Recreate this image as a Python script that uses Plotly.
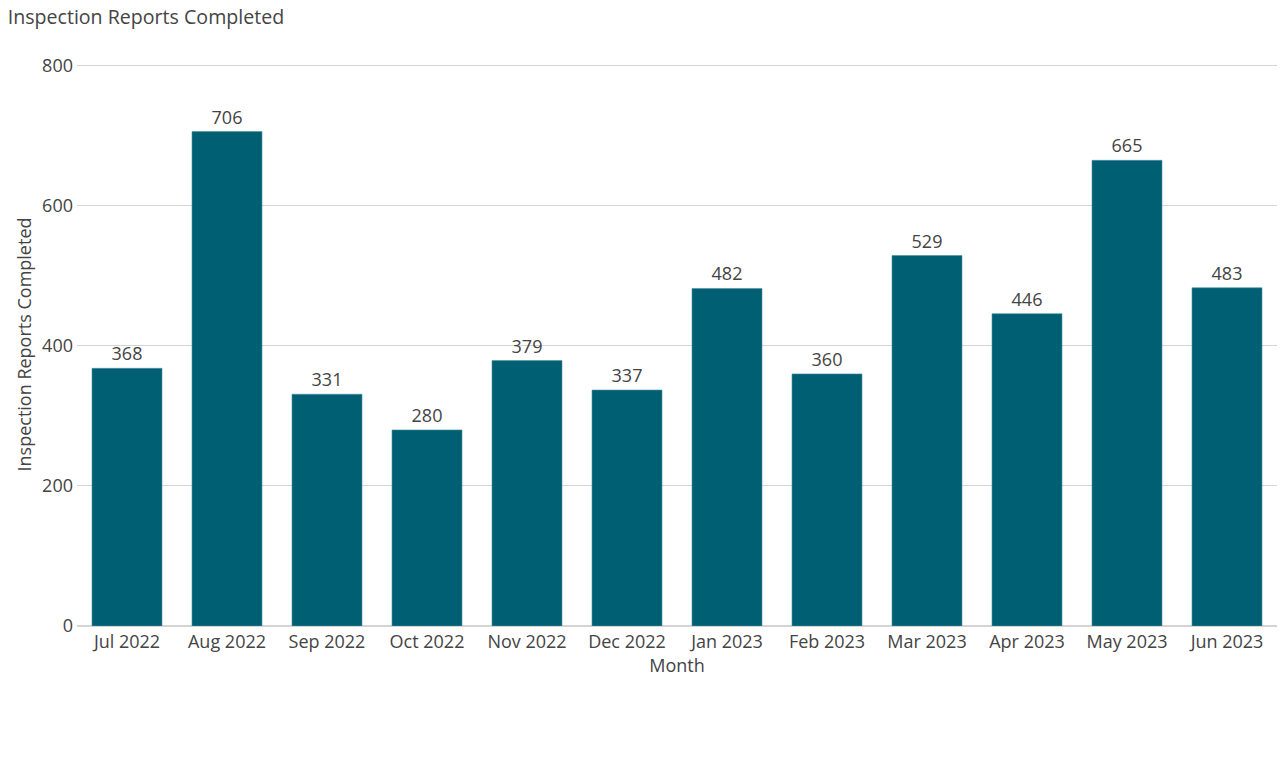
import plotly.graph_objects as go

months = ["Jul 2022", "Aug 2022", "Sep 2022", "Oct 2022", "Nov 2022", "Dec 2022",
          "Jan 2023", "Feb 2023", "Mar 2023", "Apr 2023", "May 2023", "Jun 2023"]
reports = [368, 706, 331, 280, 379, 337, 482, 360, 529, 446, 665, 483]
y_ticks = [0, 200, 400, 600, 800]

fig = go.Figure(go.Bar(
    x=months, y=reports,
    text=reports, textposition="outside", cliponaxis=False,
    textfont=dict(size=18, color="#444444"),
    marker=dict(color="#005f73", line=dict(color="#4d8fa0", width=0.6)),
))

fig.update_layout(
    width=1285, height=763,
    paper_bgcolor="white", plot_bgcolor="white",
    font=dict(family="Open Sans", size=18, color="#444444"),
    title=dict(text="Inspection Reports Completed", x=0.006, xanchor="left", y=0.977, yanchor="middle",
               font=dict(size=19.6, color="#444444")),
    margin=dict(l=77, r=8, t=63, b=137),
    bargap=0.3,
    showlegend=False,
    xaxis=dict(title=dict(text="Month", standoff=6, font=dict(size=18)), showgrid=False, showline=False,
               ticks="", ticklabelstandoff=3, tickfont=dict(size=18)),
    yaxis=dict(title=dict(text="Inspection Reports Completed", standoff=5, font=dict(size=18)),
               range=[0, 804],
               tickvals=y_ticks, gridcolor="#d4d4d4", gridwidth=1,
               zeroline=True, zerolinecolor="#d4d4d4", zerolinewidth=1.5,
               ticks="", ticklabelstandoff=3, tickfont=dict(size=18)),
)

fig.write_html("out.html")
